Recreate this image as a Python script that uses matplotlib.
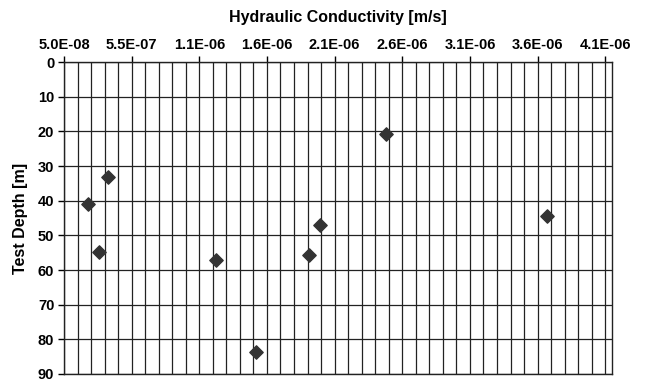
import numpy as np
import matplotlib.pyplot as plt
from matplotlib.ticker import MultipleLocator, FuncFormatter

plt.rcParams['font.family'] = ['Liberation Sans', 'DejaVu Sans']

# Hydraulic conductivity [m/s] and test depth [m]
konduktivitet = [3.73e-7, 2.30e-7, 3.05e-7, 1.17e-6, 1.47e-6, 1.86e-6, 1.94e-6, 2.43e-6, 3.62e-6]
dybde = [33.3, 41.0, 54.7, 57.2, 83.7, 55.7, 47.0, 20.8, 44.4]

x_min, x_max = 5.0e-8, 4.1e-6

fig = plt.figure(figsize=(6.5, 3.83), dpi=100)
ax = fig.add_axes([0.0985, 0.0235, 0.843, 0.8145])

ax.scatter(konduktivitet, dybde, marker='D', s=46, color='#333333', zorder=3)

ax.set_xlim(x_min, x_max)
ax.set_ylim(90, 0)

# major ticks every 5E-07, grid every 1E-07
ax.set_xticks(np.arange(x_min, x_max + 1e-9, 5e-7))
ax.set_xticks(np.arange(x_min, x_max + 1e-9, 1e-7), minor=True)
ax.xaxis.set_major_formatter(FuncFormatter(lambda v, p: '%.1E' % v))
ax.yaxis.set_major_locator(MultipleLocator(10))

ax.xaxis.tick_top()
ax.xaxis.set_label_position('top')
ax.tick_params(axis='x', which='major', length=4, width=1, pad=3, labelsize=10.5)
ax.tick_params(axis='x', which='minor', length=0)
ax.tick_params(axis='y', length=4, width=1, pad=3, labelsize=10.5)
for lab in ax.get_xticklabels() + ax.get_yticklabels():
    lab.set_fontweight('bold')

ax.grid(True, which='both', axis='x', color='#222222', linewidth=0.9)
ax.grid(True, which='major', axis='y', color='#222222', linewidth=0.9)
ax.set_axisbelow(True)

for s in ax.spines.values():
    s.set_color('#222222')
    s.set_linewidth(1)

ax.set_xlabel('Hydraulic Conductivity [m/s]', fontsize=11.5, fontweight='bold', labelpad=12)
ax.set_ylabel('Test Depth [m]', fontsize=11.5, fontweight='bold', labelpad=7)

plt.savefig('out.png', dpi=100)
